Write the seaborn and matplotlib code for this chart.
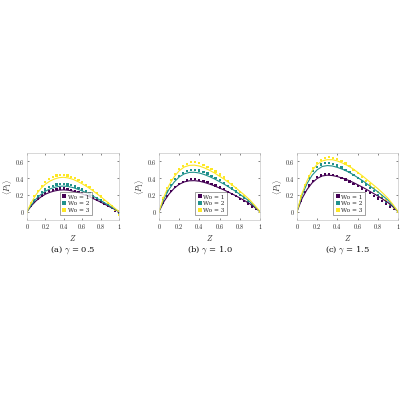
import numpy as np
import pandas as pd
import matplotlib
matplotlib.use("Agg")
import matplotlib.pyplot as plt
import seaborn as sns

# ---------------- data ----------------
z_markers = [0, .04, .08, .12, .16, .20, .24, .28, .32, .36, .40, .44, .48,
             .52, .56, .60, .64, .68, .72, .76, .80, .84, .88, .92, .96, 1.0]
z_lines = [0, .05, .1, .15, .2, .25, .3, .35, .4, .45, .5, .55, .6, .65, .7,
           .75, .8, .85, .9, .95, 1.0]

series_labels = ["Wo = 1", "Wo = 2", "Wo = 3"]
panel_captions = [r"(a) $\gamma$ = 0.5", r"(b) $\gamma$ = 1.0", r"(c) $\gamma$ = 1.5"]

# panel (a) gamma = 0.5
a_m1 = [0, .066, .116, .157, .193, .22, .242, .259, .27, .275, .275, .27, .261, .25, .237, .22, .2, .182, .16, .138, .113, .088, .063, .039, .014, -.01]
a_m2 = [0, .079, .139, .188, .231, .264, .29, .31, .323, .33, .33, .323, .314, .3, .284, .264, .241, .218, .191, .165, .135, .106, .076, .046, .017, -.025]
a_m3 = [0, .106, .185, .251, .308, .352, .387, .414, .431, .44, .44, .431, .418, .4, .378, .352, .321, .29, .255, .22, .18, .141, .101, .062, .022, -.045]
a_l1 = [0, .073, .13, .174, .208, .231, .247, .257, .26, .255, .244, .229, .211, .19, .166, .14, .114, .086, .057, .029, 0]
a_l2 = [0, .085, .153, .204, .244, .271, .29, .302, .305, .299, .287, .268, .247, .223, .195, .165, .134, .101, .067, .034, 0]
a_l3 = [0, .115, .205, .275, .328, .365, .39, .406, .41, .402, .385, .361, .332, .299, .262, .221, .18, .135, .09, .045, 0]

# panel (b) gamma = 1.0
b_m1 = [0, .108, .185, .246, .296, .331, .358, .373, .385, .385, .377, .366, .35, .331, .312, .289, .266, .239, .212, .185, .154, .123, .092, .062, .031, 0]
b_m2 = [0, .14, .24, .32, .385, .43, .465, .485, .5, .5, .49, .475, .455, .43, .405, .375, .345, .31, .275, .24, .2, .16, .12, .08, .04, 0]
b_m3 = [0, .165, .283, .378, .454, .507, .549, .572, .59, .59, .578, .561, .537, .507, .478, .443, .407, .366, .325, .283, .236, .189, .142, .094, .047, 0]
b_l1 = [0, .122, .211, .278, .326, .355, .368, .37, .363, .348, .329, .307, .281, .255, .226, .196, .163, .13, .093, .048, 0]
b_l2 = [0, .155, .268, .353, .414, .451, .468, .47, .461, .442, .418, .39, .357, .324, .287, .249, .207, .165, .118, .061, 0]
b_l3 = [0, .183, .316, .416, .488, .533, .552, .555, .544, .522, .494, .461, .422, .383, .339, .294, .244, .194, .139, .072, 0]

# panel (c) gamma = 1.5
c_m1 = [0, .134, .231, .312, .369, .409, .432, .445, .445, .436, .423, .405, .383, .36, .334, .307, .276, .249, .218, .187, .156, .125, .093, .062, .031, 0]
c_m2 = [0, .174, .302, .406, .481, .534, .563, .58, .58, .568, .551, .528, .499, .47, .435, .4, .36, .325, .284, .244, .203, .162, .122, .081, .041, 0]
c_m3 = [0, .18, .32, .43, .52, .58, .62, .645, .65, .645, .63, .605, .575, .54, .5, .46, .415, .37, .325, .28, .23, .185, .14, .09, .045, 0]
c_l1 = [0, .157, .265, .344, .396, .426, .435, .431, .418, .4, .378, .352, .322, .291, .257, .222, .187, .148, .109, .057, 0]
c_l2 = [0, .198, .336, .435, .5, .539, .55, .545, .528, .506, .479, .446, .407, .369, .325, .281, .237, .187, .138, .072, 0]
c_l3 = [0, .22, .37, .49, .565, .605, .62, .62, .605, .58, .55, .515, .47, .425, .375, .325, .275, .22, .16, .085, 0]

x_ticks = [0, 0.2, 0.4, 0.6, 0.8, 1]
x_ticklabels = ["0", "0.2", "0.4", "0.6", "0.8", "1"]
y_ticks = [0, 0.2, 0.4, 0.6]
y_ticklabels = ["0", "0.2", "0.4", "0.6"]

panels = [
    ([a_m1, a_m2, a_m3], [a_l1, a_l2, a_l3]),
    ([b_m1, b_m2, b_m3], [b_l1, b_l2, b_l3]),
    ([c_m1, c_m2, c_m3], [c_l1, c_l2, c_l3]),
]

colors = ["#440154", "#21918c", "#fde725"]

# ---------------- plotting ----------------
sns.set_theme(style="white")
plt.rcParams["font.family"] = ["DejaVu Serif"]
plt.rcParams["mathtext.fontset"] = "cm"

fig = plt.figure(figsize=(4, 4), dpi=100)
rects = [
    (27 / 400, 1 - 220 / 400, 92 / 400, 67 / 400),
    (159 / 400, 1 - 220 / 400, 101 / 400, 67 / 400),
    (297 / 400, 1 - 220 / 400, 101 / 400, 67 / 400),
]

pal = dict(zip(series_labels, colors))

for i, (rect, (mk, ln)) in enumerate(zip(rects, panels)):
    ax = fig.add_axes(rect)
    dfm = pd.DataFrame({
        "Z": np.concatenate([z_markers] * 3),
        "P": np.concatenate(mk),
        "s": np.repeat(series_labels, len(z_markers)),
    })
    dfl = pd.DataFrame({
        "Z": np.concatenate([z_lines] * 3),
        "P": np.concatenate(ln),
        "s": np.repeat(series_labels, len(z_lines)),
    })
    sns.lineplot(data=dfl, x="Z", y="P", hue="s", palette=pal, ax=ax,
                 linewidth=0.8, legend=False, sort=True)
    sns.scatterplot(data=dfm, x="Z", y="P", hue="s", palette=pal, ax=ax,
                    marker="s", s=2.5, linewidth=0, legend=True)
    ax.set_xlim(0, 1)
    ax.set_ylim(-0.1, 0.7)
    ax.set_xticks(x_ticks)
    ax.set_xticklabels(["$" + t + "$" for t in x_ticklabels])
    ax.set_yticks(y_ticks)
    ax.set_yticklabels(["$" + t + "$" for t in y_ticklabels])
    ax.tick_params(axis="both", labelsize=4.5, length=1.5, width=0.4,
                   direction="in", pad=1.5, colors="#262626",
                   bottom=True, left=True, top=True, right=True)
    ax.tick_params(labeltop=False, labelright=False)
    for sp in ax.spines.values():
        sp.set_color("#c8c8c8")
        sp.set_linewidth(0.5)
    ax.set_xlabel(r"$Z$", fontsize=5.5, labelpad=1.5, color="#262626")
    ax.set_ylabel(r"$\langle P_1\rangle$", fontsize=5.5, color="#262626",
                  labelpad=0.8)
    leg = ax.legend(loc="lower left", bbox_to_anchor=(0.36, 0.08),
                    fontsize=4.2, frameon=True, fancybox=False,
                    handletextpad=0.2, borderpad=0.35, labelspacing=0.25,
                    handlelength=0.8, markerscale=1.4, borderaxespad=0)
    leg.get_frame().set_edgecolor("#333333")
    leg.get_frame().set_linewidth(0.4)
    ax.text(0.5, -0.36, panel_captions[i], transform=ax.transAxes,
            ha="center", va="top", fontsize=6, color="#111111")

fig.savefig("out.png", dpi=100)
